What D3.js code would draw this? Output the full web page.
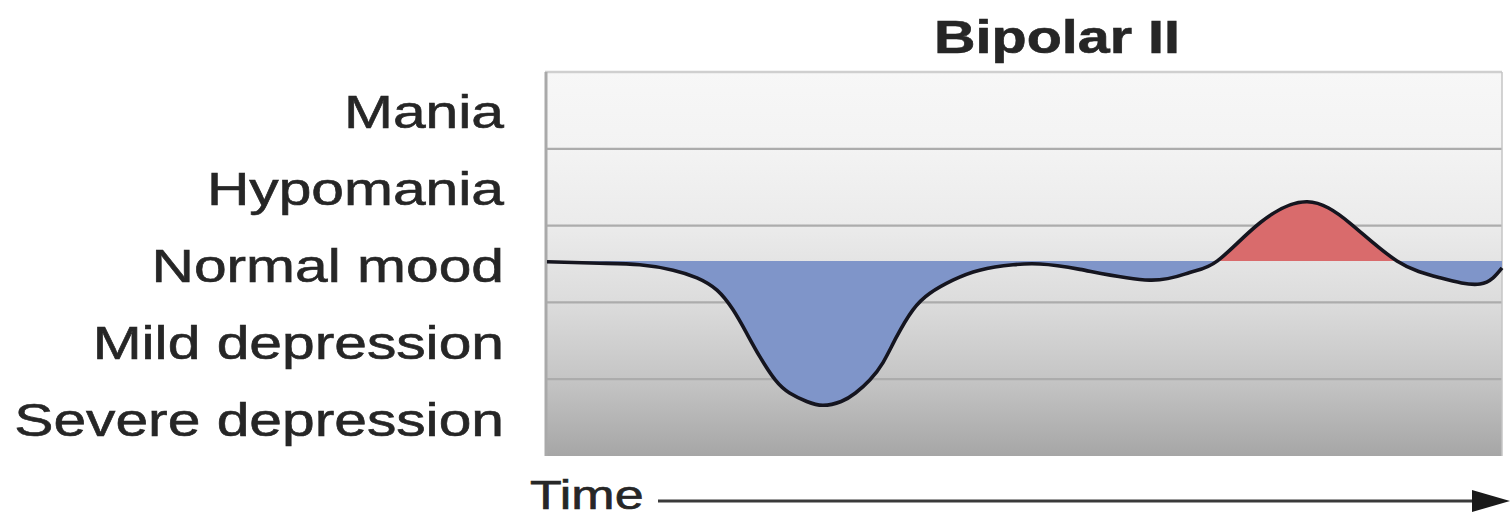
<!DOCTYPE html>
<html>
<head>
<meta charset="utf-8">
<script src="https://cdn.jsdelivr.net/npm/d3@7"></script>
<style>
html,body{margin:0;padding:0;background:#fff;}
svg{display:block;}
text{font-family:"Liberation Sans",Arial,sans-serif;fill:#262626;stroke:#262626;stroke-width:0.6px;}
</style>
</head>
<body>
<svg id="chart" width="1511" height="518"></svg>
<script>
// ---- data ----
const title = "Bipolar II";
const moodLabels = ["Mania", "Hypomania", "Normal mood", "Mild depression", "Severe depression"];
const moodLevels = [2, 1, 0, -1, -2];
const bandEdges = [2.5, 1.5, 0.5, -0.5, -1.5, -2.5];
const normalLevel = 0.04;
const timeLabel = "Time";
const timeValues = [0, 5.5, 9.7, 13.2, 15.7, 17.8, 19.5, 20.9, 22.3, 23.9, 25.4, 27.2, 28.9, 30.8, 32.3, 33.8, 35.2, 36.6, 38.3, 40.1, 42.5, 45.3, 48.8, 51.6, 55.8, 63.1, 67.3, 70.2, 74.7, 79.6, 84.1, 89.0, 93.5, 97.7, 100];
const moodValues = [0.03, 0.01, -0.01, -0.08, -0.18, -0.34, -0.60, -0.90, -1.21, -1.51, -1.68, -1.79, -1.84, -1.79, -1.68, -1.51, -1.28, -0.95, -0.60, -0.38, -0.21, -0.08, -0.01, 0.0, -0.07, -0.21, -0.11, 0.04, 0.54, 0.81, 0.53, 0.04, -0.18, -0.26, -0.05];

// ---- layout ----
const svg = d3.select("#chart");
const L = 547, R = 1502, T = 72, B = 456;
const x = d3.scaleLinear().domain([0, 100]).range([L, R]);
const y = d3.scaleLinear().domain([-2.5, 2.5]).range([B, T]);
const pts = timeValues.map((t, i) => ({t, m: moodValues[i]}));

const defs = svg.append("defs");
const grad = defs.append("linearGradient").attr("id", "bg").attr("x1", 0).attr("y1", 0).attr("x2", 0).attr("y2", 1);
[[0, "#f7f7f7"], [0.2, "#f3f3f3"], [0.4, "#ebebeb"], [0.6, "#dcdcdc"], [0.8, "#c5c5c5"], [1, "#a6a6a6"]]
  .forEach(([o, c]) => grad.append("stop").attr("offset", o).attr("stop-color", c));

defs.append("clipPath").attr("id", "above").append("rect")
  .attr("x", L).attr("y", T).attr("width", R - L).attr("height", y(normalLevel) - T);
defs.append("clipPath").attr("id", "below").append("rect")
  .attr("x", L).attr("y", y(normalLevel)).attr("width", R - L).attr("height", B - y(normalLevel));

// background
svg.append("rect").attr("x", L - 2).attr("y", T).attr("width", R - L + 2).attr("height", B - T)
  .attr("fill", "url(#bg)");

// band lines
svg.append("g").selectAll("line").data(bandEdges.slice(1, -1)).join("line")
  .attr("x1", L).attr("x2", R).attr("y1", d => y(d)).attr("y2", d => y(d))
  .attr("stroke", "#acacac").attr("stroke-width", 2.2);

// frame
svg.append("line").attr("x1", L - 2).attr("x2", R).attr("y1", T).attr("y2", T).attr("stroke", "#cfcfcf").attr("stroke-width", 2.5);
svg.append("line").attr("x1", L - 1).attr("x2", L - 1).attr("y1", T).attr("y2", B).attr("stroke", "#a9a9a9").attr("stroke-width", 3);
svg.append("line").attr("x1", R).attr("x2", R).attr("y1", T).attr("y2", B).attr("stroke", "#c4c4c4").attr("stroke-width", 1.5);

// fills
const curve = d3.curveNatural;
const area = d3.area().x(d => x(d.t)).y0(y(normalLevel)).y1(d => y(d.m)).curve(curve);
svg.append("path").datum(pts).attr("d", area).attr("fill", "#d96b6c").attr("clip-path", "url(#above)");
svg.append("path").datum(pts).attr("d", area).attr("fill", "#7f95c9").attr("clip-path", "url(#below)");

// line
const line = d3.line().x(d => x(d.t)).y(d => y(d.m)).curve(curve);
svg.append("path").datum(pts).attr("d", line).attr("fill", "none")
  .attr("stroke", "#15151f").attr("stroke-width", 3.6).attr("stroke-linejoin", "round");

// mood labels
svg.append("g").selectAll("text").data(moodLabels).join("text")
  .attr("transform", (d, i) => `translate(504,${y(moodLevels[i]) + 18}) scale(1.25,1)`)
  .attr("text-anchor", "end").attr("font-size", 47).text(d => d);

// title
svg.append("text").attr("transform", "translate(1057,53) scale(1.25,1)")
  .attr("text-anchor", "middle").attr("font-size", 46).attr("font-weight", "bold").text(title);

// time axis
svg.append("text").attr("transform", "translate(530,509) scale(1.3,1)")
  .attr("font-size", 40).text(timeLabel);
svg.append("line").attr("x1", 658).attr("x2", 1480).attr("y1", 501).attr("y2", 501)
  .attr("stroke", "#3a3a3a").attr("stroke-width", 3);
svg.append("path").attr("d", "M1472,490 L1510,501 L1472,512 Z").attr("fill", "#1a1a1a");
</script>
</body>
</html>
